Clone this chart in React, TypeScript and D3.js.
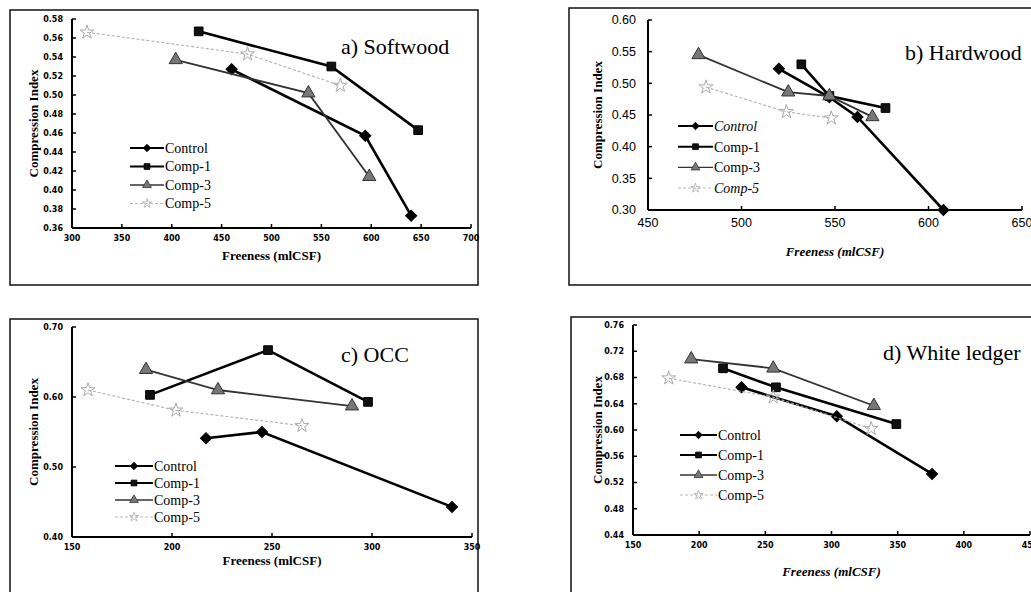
import React from 'react';
import * as d3 from 'd3';

// series names, shared by all four panels
const seriesNames = ['Control', 'Comp-1', 'Comp-3', 'Comp-5'];

// a) Softwood  [freeness, compression index]
const swControl = [[460, 0.527], [594, 0.457], [640, 0.373]];
const swComp1 = [[427, 0.567], [560, 0.53], [647, 0.463]];
const swComp3 = [[404, 0.537], [537, 0.502], [598, 0.414]];
const swComp5 = [[315, 0.566], [476, 0.543], [569, 0.51]];

// b) Hardwood
const hwControl = [[520, 0.523], [547, 0.478], [562, 0.447], [608, 0.3]];
const hwComp1 = [[532, 0.53], [547, 0.48], [577, 0.461]];
const hwComp3 = [[477, 0.545], [525, 0.486], [547, 0.48], [570, 0.447]];
const hwComp5 = [[481, 0.494], [524, 0.455], [548, 0.445]];

// c) OCC
const occControl = [[217, 0.541], [245, 0.55], [340, 0.443]];
const occComp1 = [[189, 0.603], [248, 0.667], [298, 0.593]];
const occComp3 = [[187, 0.639], [223, 0.61], [290, 0.587]];
const occComp5 = [[158, 0.61], [202, 0.581], [265, 0.559]];

// d) White ledger
const wlControl = [[232, 0.665], [304, 0.621], [376, 0.533]];
const wlComp1 = [[218, 0.694], [258, 0.665], [349, 0.609]];
const wlComp3 = [[194, 0.708], [256, 0.694], [332, 0.637]];
const wlComp5 = [[177, 0.679], [256, 0.65], [330, 0.602]];

// axis ticks
const swXTicks = [300, 350, 400, 450, 500, 550, 600, 650, 700];
const swYTicks = [0.36, 0.38, 0.4, 0.42, 0.44, 0.46, 0.48, 0.5, 0.52, 0.54, 0.56, 0.58];
const hwXTicks = [450, 500, 550, 600, 650];
const hwYTicks = [0.3, 0.35, 0.4, 0.45, 0.5, 0.55, 0.6];
const occXTicks = [150, 200, 250, 300, 350];
const occYTicks = [0.4, 0.5, 0.6, 0.7];
const wlXTicks = [150, 200, 250, 300, 350, 400, 450];
const wlYTicks = [0.44, 0.48, 0.52, 0.56, 0.6, 0.64, 0.68, 0.72, 0.76];

const SERIF = '"Liberation Serif", "DejaVu Serif", serif';
const SANS = '"DejaVu Sans", "Liberation Sans", sans-serif';

// diamond = square turned 45deg (d3's own diamond is too narrow)
const styles = [
  { stroke: '#000', width: 2.6, dash: null, symbol: d3.symbolSquare, rot: 45, size: 62, fill: '#000', mstroke: '#000' },
  { stroke: '#000', width: 2.6, dash: null, symbol: d3.symbolSquare, rot: 0, size: 75, fill: '#111', mstroke: '#000' },
  { stroke: '#333', width: 1.8, dash: null, symbol: d3.symbolTriangle, rot: 0, size: 75, fill: '#777', mstroke: '#333' },
  { stroke: '#b0b0b0', width: 1.1, dash: '3,2', symbol: d3.symbolStar, rot: 0, size: 60, fill: 'none', mstroke: '#aaa' },
];

type PanelProps = {
  box: number[];
  xDomain: number[];
  xRange: number[];
  yDomain: number[];
  yRange: number[];
  xTicks: number[];
  yTicks: number[];
  yFmt: string;
  series: number[][][];
  title: string;
  titlePos: number[];
  legendPos: number[];
  legendItalic: boolean[];
  xTitleY: number;
  yTitleX: number;
  titleItalic: boolean;
  tickFont: { size: number; weight: string; family: string; xOff: number; yOff: number };
};

const Panel = (p: PanelProps) => {
  const x = d3.scaleLinear().domain(p.xDomain).range(p.xRange);
  const y = d3.scaleLinear().domain(p.yDomain).range(p.yRange);
  const line = d3.line<number[]>().x(d => x(d[0])).y(d => y(d[1]));
  const fmt = d3.format(p.yFmt);
  const [x0, x1] = p.xRange;
  const [yb, yt] = p.yRange;
  const tf = p.tickFont;
  return (
    <g>
      <rect x={p.box[0]} y={p.box[1]} width={p.box[2]} height={p.box[3]} fill="none" stroke="#111" strokeWidth={1.5} />
      {/* axes */}
      <line x1={x0} x2={x1} y1={yb} y2={yb} stroke="#000" strokeWidth={2} />
      <line x1={x0} x2={x0} y1={yb} y2={yt} stroke="#000" strokeWidth={2} />
      {p.xTicks.map(t => (
        <g key={'x' + t}>
          <line x1={x(t)} x2={x(t)} y1={yb} y2={yb - 4} stroke="#000" strokeWidth={1.5} />
          <text x={x(t)} y={yb + tf.xOff} textAnchor="middle" fontSize={tf.size} fontWeight={tf.weight} fontFamily={tf.family}>{t}</text>
        </g>
      ))}
      {p.yTicks.map(t => (
        <g key={'y' + t}>
          <line x1={x0} x2={x0 + 4} y1={y(t)} y2={y(t)} stroke="#000" strokeWidth={1.5} />
          <text x={x0 - tf.yOff} y={y(t)} dy="0.35em" textAnchor="end" fontSize={tf.size} fontWeight={tf.weight} fontFamily={tf.family}>{fmt(t)}</text>
        </g>
      ))}
      <text x={(x0 + x1) / 2} y={p.xTitleY} textAnchor="middle" fontSize={13} fontWeight="bold" fontStyle={p.titleItalic ? 'italic' : 'normal'} fontFamily={SERIF}>Freeness (mlCSF)</text>
      <text transform={`translate(${p.yTitleX},${(yb + yt) / 2}) rotate(-90)`} textAnchor="middle" dy="0.35em" fontSize={13} fontWeight="bold" fontFamily={SERIF}>Compression Index</text>
      {/* series */}
      {p.series.map((s, i) => {
        const st = styles[i];
        return (
          <g key={'s' + i}>
            <path d={line(s) || ''} fill="none" stroke={st.stroke} strokeWidth={st.width} strokeDasharray={st.dash || undefined} />
            {s.map((d, j) => (
              <path key={j} transform={`translate(${x(d[0])},${y(d[1])}) rotate(${st.rot})`} d={d3.symbol().type(st.symbol).size(st.size)() || ''} fill={st.fill} stroke={st.mstroke} strokeWidth={1} />
            ))}
          </g>
        );
      })}
      {/* legend */}
      {seriesNames.map((n, i) => {
        const st = styles[i];
        const [lx0, lx1, ly, gap] = p.legendPos;
        const yy = ly + i * gap;
        return (
          <g key={'l' + n}>
            <line x1={lx0} x2={lx1} y1={yy} y2={yy} stroke={st.stroke} strokeWidth={st.width * 0.8} strokeDasharray={st.dash || undefined} />
            <path transform={`translate(${(lx0 + lx1) / 2},${yy}) rotate(${st.rot})`} d={d3.symbol().type(st.symbol).size(st.size * 0.45)() || ''} fill={st.fill} stroke={st.mstroke} strokeWidth={0.8} />
            <text x={lx1 + 1} y={yy} dy="0.35em" fontSize={14} fontStyle={p.legendItalic[i] ? 'italic' : 'normal'} fontFamily={SERIF}>{n}</text>
          </g>
        );
      })}
      <text x={p.titlePos[0]} y={p.titlePos[1]} fontSize={22} fontFamily={SERIF}>{p.title}</text>
    </g>
  );
};

const smallTicks = { size: 8, weight: 'bold', family: SANS, xOff: 13, yOff: 9 };
const bigTicks = { size: 12.5, weight: 'normal', family: '"Liberation Sans", sans-serif', xOff: 17, yOff: 12 };

export default function App() {
  return (
    <svg width={1031} height={592} style={{ position: 'absolute', left: 0, top: 0, background: '#fff' }}>
      <rect width={1031} height={592} fill="#fff" />
      <Panel box={[10, 10, 468, 275]} xDomain={[300, 700]} xRange={[72, 471]} yDomain={[0.36, 0.58]} yRange={[228, 19]}
        xTicks={swXTicks} yTicks={swYTicks} yFmt=".2f" series={[swControl, swComp1, swComp3, swComp5]}
        title="a) Softwood" titlePos={[341, 54]} legendPos={[130, 164, 148, 18.5]} legendItalic={[false, false, false, false]}
        xTitleY={260} yTitleX={33} titleItalic={false} tickFont={smallTicks} />
      <Panel box={[569, 8, 480, 277]} xDomain={[450, 650]} xRange={[648, 1022]} yDomain={[0.3, 0.6]} yRange={[210, 20]}
        xTicks={hwXTicks} yTicks={hwYTicks} yFmt=".2f" series={[hwControl, hwComp1, hwComp3, hwComp5]}
        title="b) Hardwood" titlePos={[905, 60]} legendPos={[678, 713, 126, 20.7]} legendItalic={[true, false, false, true]}
        xTitleY={256} yTitleX={597} titleItalic={true} tickFont={bigTicks} />
      <Panel box={[10, 319, 468, 300]} xDomain={[150, 350]} xRange={[72, 472]} yDomain={[0.4, 0.7]} yRange={[537, 327]}
        xTicks={occXTicks} yTicks={occYTicks} yFmt=".2f" series={[occControl, occComp1, occComp3, occComp5]}
        title="c) OCC" titlePos={[341, 362]} legendPos={[115, 153, 466, 17]} legendItalic={[false, false, false, false]}
        xTitleY={565} yTitleX={33} titleItalic={false} tickFont={smallTicks} />
      <Panel box={[571, 317, 480, 300]} xDomain={[150, 450]} xRange={[633, 1030]} yDomain={[0.44, 0.76]} yRange={[535, 325]}
        xTicks={wlXTicks} yTicks={wlYTicks} yFmt=".2f" series={[wlControl, wlComp1, wlComp3, wlComp5]}
        title="d) White ledger" titlePos={[883, 360]} legendPos={[680, 717, 435, 20]} legendItalic={[false, false, false, false]}
        xTitleY={576} yTitleX={597} titleItalic={true} tickFont={smallTicks} />
    </svg>
  );
}
